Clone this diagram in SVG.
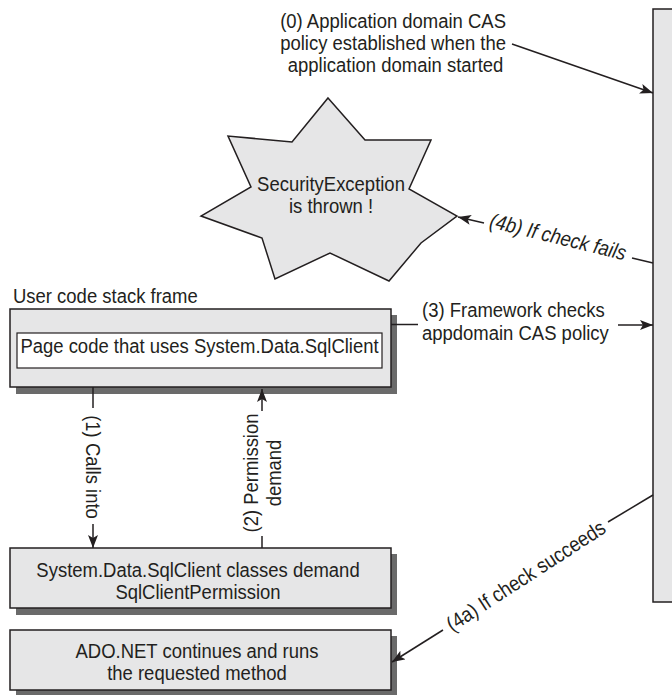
<svg xmlns="http://www.w3.org/2000/svg" width="672" height="695" viewBox="0 0 672 695">
<style>
  .t { font-family: "Liberation Sans", Arial, sans-serif; font-size: 21px; fill: #231f20; }
  .box { fill: #e6e6e7; stroke: #231f20; stroke-width: 1.5; }
  .shadow { fill: #6a6a6a; }
  .inner { fill: #ffffff; stroke: #231f20; stroke-width: 1.2; }
  .ln { fill: none; stroke: #231f20; stroke-width: 1.5; }
  .arr { fill: none; stroke: #231f20; stroke-width: 1.5; marker-end: url(#ah); }
</style>
<defs>
  <marker id="ah" markerUnits="userSpaceOnUse" markerWidth="14" markerHeight="11" refX="13" refY="5" orient="auto">
    <path d="M0,0 L13,5 L0,10 L3,5 z" fill="#231f20"/>
  </marker>
</defs>
<rect width="672" height="695" fill="#ffffff"/>

<g id="appdomain">
  <rect class="box" x="653" y="9" width="40" height="593"/>
</g>

<g id="security-exception">
  <polygon class="box" stroke-width="1.2" points="328,98 365,140 431,140 409,189 457,216 421,243 389,281 330,253 275,279 262,238 201,216 251,187 228,136 292,142"/>
  <text class="t" text-anchor="middle" transform="translate(331,191) scale(0.88,1)"><tspan x="0" y="0">SecurityException</tspan><tspan x="0" y="22.5">is thrown !</tspan></text>
</g>

<g id="user-frame">
  <text class="t" transform="translate(13,303) scale(0.88,1)">User code stack frame</text>
  <rect class="shadow" x="16" y="315" width="381" height="79"/>
  <rect class="box" x="10" y="309" width="381" height="78"/>
  <rect class="inner" x="17" y="333" width="365" height="35"/>
  <text class="t" text-anchor="middle" transform="translate(199.5,353) scale(0.88,1)">Page code that uses System.Data.SqlClient</text>
</g>

<g id="sqlclient">
  <rect class="shadow" x="16" y="554" width="381" height="61"/>
  <rect class="box" x="10" y="548" width="381" height="60"/>
  <text class="t" text-anchor="middle" transform="translate(198,577) scale(0.88,1)"><tspan x="0" y="0">System.Data.SqlClient classes demand</tspan><tspan x="0" y="22">SqlClientPermission</tspan></text>
</g>

<g id="adonet">
  <rect class="shadow" x="16" y="636" width="381" height="61"/>
  <rect class="box" x="10" y="630" width="381" height="60"/>
  <text class="t" text-anchor="middle" transform="translate(197,658) scale(0.88,1)"><tspan x="0" y="0">ADO.NET continues and runs</tspan><tspan x="0" y="22">the requested method</tspan></text>
</g>

<g id="connectors">
  <!-- (0) -->
  <text class="t" text-anchor="end" transform="translate(506,28) scale(0.88,1)"><tspan x="0" y="0">(0) Application domain CAS</tspan><tspan x="0" y="22">policy established when the</tspan><tspan x="-3" y="44">application domain started</tspan></text>
  <line class="arr" x1="512" y1="44" x2="653" y2="93"/>

  <!-- (4b) -->
  <line class="ln" x1="653" y1="263" x2="632" y2="258"/>
  <line class="arr" x1="484" y1="223" x2="458" y2="217"/>
  <text class="t" font-style="italic" text-anchor="middle" transform="translate(558,237) rotate(13.8) scale(0.88,1)" y="7">(4b) If check fails</text>

  <!-- (3) -->
  <line class="ln" x1="391" y1="324.5" x2="418" y2="324.5"/>
  <text class="t" transform="translate(422,317) scale(0.88,1)"><tspan x="0" y="0">(3) Framework checks</tspan><tspan x="0" y="23">appdomain CAS policy</tspan></text>
  <line class="arr" x1="618" y1="325" x2="653" y2="325"/>

  <!-- (1) -->
  <line class="ln" x1="93" y1="387" x2="93" y2="408"/>
  <text class="t" text-anchor="middle" transform="translate(93,467) rotate(90) scale(0.88,1)" y="7">(1) Calls into</text>
  <line class="arr" x1="93" y1="524" x2="93" y2="548"/>

  <!-- (2) -->
  <line class="ln" x1="262" y1="548" x2="262" y2="536"/>
  <text class="t" text-anchor="middle" transform="translate(262,473) rotate(-90) scale(0.88,1)"><tspan x="0" y="-4">(2) Permission</tspan><tspan x="0" y="19">demand</tspan></text>
  <line class="arr" x1="262" y1="411" x2="262" y2="389"/>

  <!-- (4a) -->
  <line class="ln" x1="653" y1="495" x2="608" y2="522"/>
  <text class="t" text-anchor="middle" transform="translate(526,576) rotate(-33) scale(0.88,1)" y="7">(4a) If check succeeds</text>
  <line class="arr" x1="443" y1="630" x2="392" y2="662"/>
</g>
</svg>
